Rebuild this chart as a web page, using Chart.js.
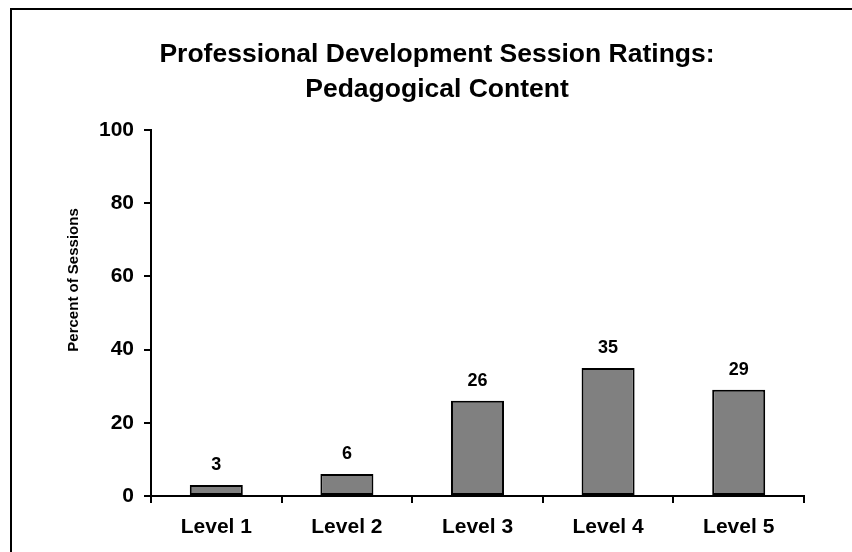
<!DOCTYPE html>
<html>
<head>
<meta charset="utf-8">
<script src="https://cdn.jsdelivr.net/npm/chart.js@4"></script>
<style>
  body { margin: 0; background: #fff; }
  #frame {
    position: absolute; left: 10px; top: 8px;
    width: 842px; height: 544px;
    border-left: 2px solid #000; border-top: 2px solid #000;
    overflow: hidden;
  }
</style>
</head>
<body>
<div id="frame"><canvas id="chart" width="840" height="542"></canvas></div>
<script>
const levels = ["Level 1", "Level 2", "Level 3", "Level 4", "Level 5"];
const percents = [3, 6, 26, 35, 29];
const yTicks = [0, 20, 40, 60, 80, 100];

const fontFamily = "'Liberation Sans', Arial, sans-serif";

// values above each bar
const barLabels = {
  id: "barLabels",
  afterDatasetsDraw(chart) {
    const ctx = chart.ctx;
    ctx.save();
    ctx.font = "bold 18px " + fontFamily;
    ctx.fillStyle = "#000";
    ctx.textAlign = "center";
    ctx.textBaseline = "alphabetic";
    chart.getDatasetMeta(0).data.forEach((bar, i) => {
      ctx.fillText(percents[i], bar.x, bar.y - 15);
    });
    ctx.restore();
  }
};

// y axis title, sits a bit above the middle of the axis
const yTitle = {
  id: "yTitle",
  afterDraw(chart) {
    const ctx = chart.ctx;
    const area = chart.chartArea;
    ctx.save();
    ctx.translate(62, area.top + 150);
    ctx.rotate(-Math.PI / 2);
    ctx.font = "bold 15px " + fontFamily;
    ctx.fillStyle = "#000";
    ctx.textAlign = "center";
    ctx.textBaseline = "middle";
    ctx.fillText("Percent of Sessions", 0, 0);
    ctx.restore();
  }
};

new Chart(document.getElementById("chart"), {
  type: "bar",
  data: {
    labels: levels,
    datasets: [{
      data: percents,
      backgroundColor: "#808080",
      borderColor: "#000",
      borderWidth: 2,
      borderSkipped: false,
      barPercentage: 0.406,
      categoryPercentage: 1
    }]
  },
  options: {
    responsive: false,
    animation: false,
    layout: { padding: { left: 10, right: 0, top: 0, bottom: 0 } },
    plugins: {
      legend: { display: false },
      tooltip: { enabled: false },
      title: {
        display: true,
        text: ["Professional Development Session Ratings:", "Pedagogical Content"],
        color: "#000",
        font: { family: fontFamily, size: 26.5, weight: "bold", lineHeight: 1.32 },
        padding: { top: 27, bottom: 23 }
      }
    },
    scales: {
      x: {
        grid: { display: true, drawOnChartArea: false, offset: true, tickLength: 7, color: "#000", lineWidth: 2 },
        border: { color: "#000", width: 2 },
        ticks: { color: "#000", padding: 12, font: { family: fontFamily, size: 21, weight: "bold" } },
        afterFit(scale) { scale.height = 56; }
      },
      y: {
        min: 0,
        max: 100,
        afterBuildTicks(scale) { scale.ticks = yTicks.map(v => ({ value: v })); },
        grid: { display: true, drawOnChartArea: false, tickLength: 7, color: "#000", lineWidth: 2 },
        border: { color: "#000", width: 2 },
        ticks: { color: "#000", padding: 10, font: { family: fontFamily, size: 21, weight: "bold" } },
        afterFit(scale) { scale.width = 129; }
      },
      // empty right-hand space so the title stays centred on the whole frame
      spacer: {
        position: "right",
        display: true,
        grid: { display: false },
        border: { display: false },
        ticks: { display: false },
        afterFit(scale) { scale.width = 48; }
      }
    }
  },
  plugins: [barLabels, yTitle]
});
</script>
</body>
</html>
